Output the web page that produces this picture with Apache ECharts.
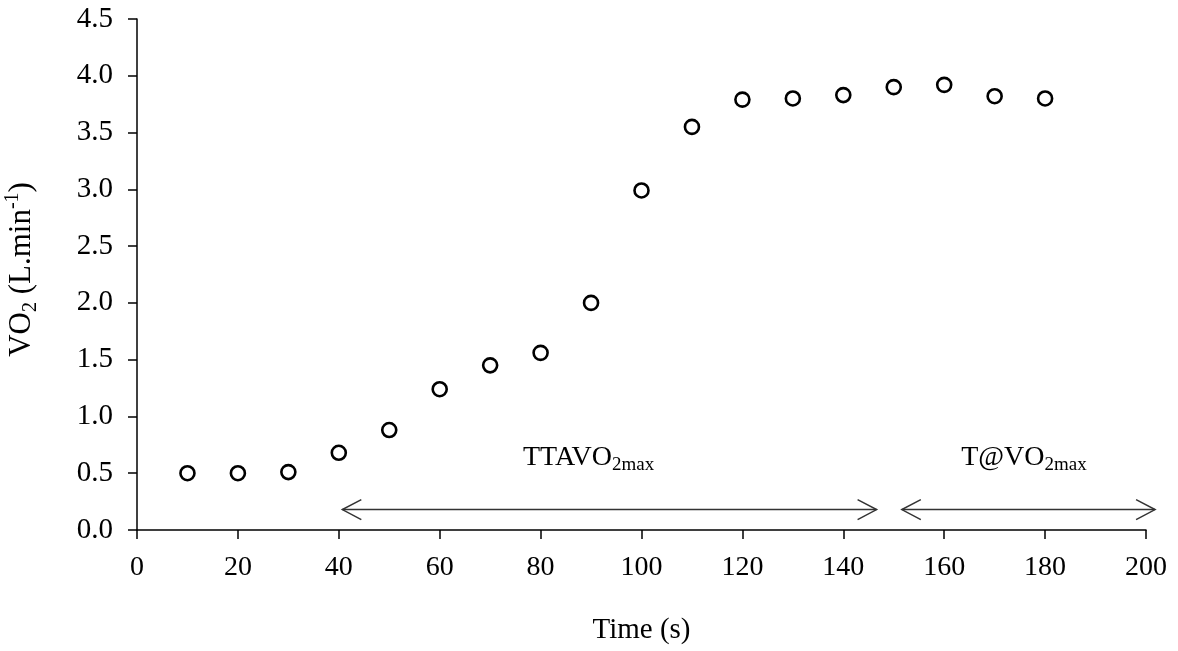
<!DOCTYPE html>
<html>
<head>
<meta charset="utf-8">
<script src="https://cdn.jsdelivr.net/npm/echarts@6/dist/echarts.min.js"></script>
<style>
    html, body { margin: 0; padding: 0; background: #fff; }
    #main { width: 1178px; height: 651px; }
</style>
</head>
<body>
<div id="main"></div>
<script type="text/javascript">
// time (s) and VO2 (L/min)
var times = [10, 20, 30, 40, 50, 60, 70, 80, 90, 100, 110, 120, 130, 140, 150, 160, 170, 180];
var vo2 = [0.50, 0.50, 0.51, 0.68, 0.88, 1.24, 1.45, 1.56, 2.00, 2.99, 3.55, 3.79, 3.80, 3.83, 3.90, 3.92, 3.82, 3.80];

// double arrows: [from, to, level]
var spans = [[40.7, 146.6, 0.18], [151.6, 201.8, 0.18]];
// labels over the arrows: [x, y, main text, subscript]
var spanLabels = [[89.5, 0.49, 'TTAVO', '2max'], [175.8, 0.49, 'T@VO', '2max']];

var font = '"Liberation Serif", "Times New Roman", serif';
var myChart = echarts.init(document.getElementById('main'));

var option = {
    animation: false,
    textStyle: { fontFamily: font, color: '#000' },
    grid: { left: 137, right: 32, top: 19, bottom: 121, outerBoundsMode: 'none', containLabel: false },
    xAxis: {
        type: 'value',
        min: 0,
        max: 200,
        interval: 20,
        name: 'Time (s)',
        nameLocation: 'middle',
        nameGap: 86,
        nameTextStyle: { fontFamily: font, fontSize: 29, color: '#000' },
        axisLine: { onZero: false, lineStyle: { color: '#000', width: 1.5 } },
        axisTick: { show: true, length: 9, lineStyle: { color: '#000', width: 1.5 } },
        axisLabel: { fontFamily: font, fontSize: 28, color: '#000', margin: 24 },
        splitLine: { show: false }
    },
    yAxis: {
        type: 'value',
        min: 0,
        max: 4.5,
        interval: 0.5,
        name: '{m|VO}{sub|2}{m| (L.min}{sup|-1}{m|)}',
        nameLocation: 'middle',
        nameRotate: 90,
        nameGap: 96,
        nameTextStyle: {
            fontFamily: font,
            color: '#000',
            padding: [0, 0, 0, 10],
            rich: {
                m: { fontFamily: font, fontSize: 31, lineHeight: 38, color: '#000' },
                sub: { fontFamily: font, fontSize: 20, lineHeight: 20, verticalAlign: 'bottom', color: '#000' },
                sup: { fontFamily: font, fontSize: 20, lineHeight: 20, verticalAlign: 'top', color: '#000' }
            }
        },
        axisLine: { show: true, lineStyle: { color: '#000', width: 1.5 } },
        axisTick: { show: true, length: 9, lineStyle: { color: '#000', width: 1.5 } },
        axisLabel: {
            fontFamily: font, fontSize: 29, color: '#000', margin: 24,
            formatter: function (v) { return v.toFixed(1); }
        },
        splitLine: { show: false }
    },
    series: [{
        name: 'VO2',
        type: 'scatter',
        symbol: 'circle',
        symbolSize: 14,
        itemStyle: { color: '#fff', borderColor: '#000', borderWidth: 2.6, opacity: 1 },
        data: times.map(function (t, i) { return [t, vo2[i]]; }),
        z: 5
    }, {
        name: 'spans',
        type: 'custom',
        clip: false,
        silent: true,
        data: spans,
        renderItem: function (params, api) {
            var a = api.coord([api.value(0), api.value(2)]);
            var b = api.coord([api.value(1), api.value(2)]);
            var w = 19, h = 10;
            var st = { stroke: '#333', lineWidth: 1.5, fill: null };
            return {
                type: 'group',
                children: [
                    { type: 'line', shape: { x1: a[0], y1: a[1], x2: b[0], y2: b[1] }, style: st },
                    { type: 'polyline', shape: { points: [[a[0] + w, a[1] - h], [a[0], a[1]], [a[0] + w, a[1] + h]] }, style: st },
                    { type: 'polyline', shape: { points: [[b[0] - w, b[1] - h], [b[0], b[1]], [b[0] - w, b[1] + h]] }, style: st }
                ]
            };
        }
    }, {
        name: 'span labels',
        type: 'custom',
        clip: false,
        silent: true,
        data: spanLabels,
        renderItem: function (params, api) {
            var p = api.coord([api.value(0), api.value(1)]);
            var d = spanLabels[params.dataIndex];
            return {
                type: 'text',
                x: p[0],
                y: p[1],
                style: {
                    text: '{m|' + d[2] + '}{sub|' + d[3] + '}',
                    align: 'center',
                    verticalAlign: 'bottom',
                    rich: {
                        m: { fontFamily: font, fontSize: 28, lineHeight: 34, fill: '#000' },
                        sub: { fontFamily: font, fontSize: 19, lineHeight: 19, verticalAlign: 'bottom', fill: '#000' }
                    }
                }
            };
        }
    }]
};
myChart.setOption(option);
</script>
</body>
</html>
